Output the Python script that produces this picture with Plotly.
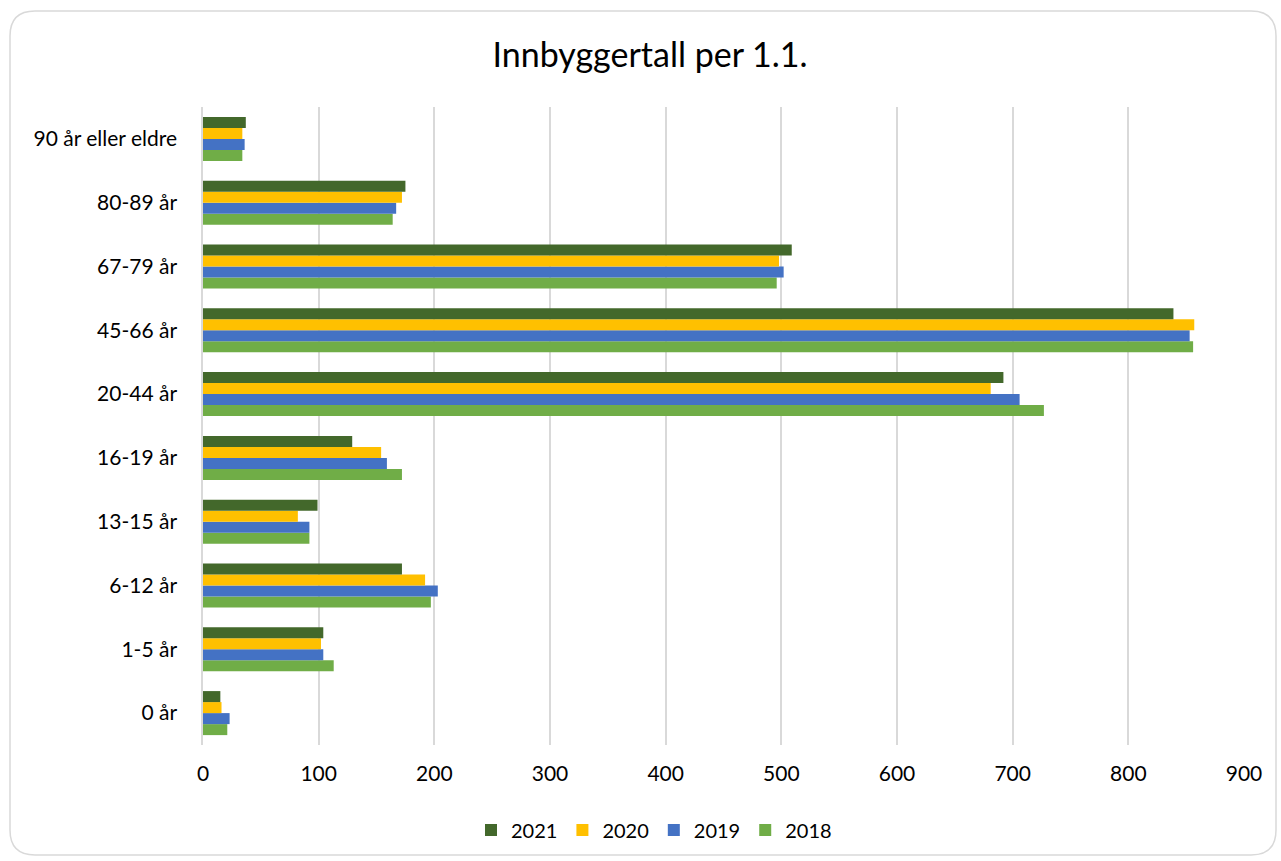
import plotly.graph_objects as go

categories = ["0 år", "1-5 år", "6-12 år", "13-15 år", "16-19 år", "20-44 år",
              "45-66 år", "67-79 år", "80-89 år", "90 år eller eldre"]
v2021 = [15, 104, 172, 99, 129, 692, 839, 509, 175, 37]
v2020 = [16, 102, 192, 82, 154, 681, 857, 498, 172, 34]
v2019 = [23, 104, 203, 92, 159, 706, 853, 502, 167, 36]
v2018 = [21, 113, 197, 92, 172, 727, 856, 496, 164, 34]
tick_vals = [0, 100, 200, 300, 400, 500, 600, 700, 800, 900]

W, H = 1281, 861
L, R, T, B = 203, 37, 107, 116

fig = go.Figure()
for name, vals, col in [("2018", v2018, "#70AD47"), ("2019", v2019, "#4472C4"),
                        ("2020", v2020, "#FFC000"), ("2021", v2021, "#43682B")]:
    fig.add_trace(go.Bar(y=categories, x=vals, name=name, orientation="h",
                         marker=dict(color=col, line=dict(width=0))))

pw, ph = W - L - R, H - T - B
def px(x):
    return (x - L) / pw
def py(y):
    return (H - B - y) / ph

x0, x1, y0, y1, r = 10, 1276, 11, 855, 25
path = (f"M {px(x0+r)},{py(y0)} L {px(x1-r)},{py(y0)} "
        f"Q {px(x1)},{py(y0)} {px(x1)},{py(y0+r)} L {px(x1)},{py(y1-r)} "
        f"Q {px(x1)},{py(y1)} {px(x1-r)},{py(y1)} L {px(x0+r)},{py(y1)} "
        f"Q {px(x0)},{py(y1)} {px(x0)},{py(y1-r)} L {px(x0)},{py(y0+r)} "
        f"Q {px(x0)},{py(y0)} {px(x0+r)},{py(y0)} Z")

fig.update_layout(
    width=W, height=H,
    margin=dict(l=L, r=R, t=T, b=B),
    paper_bgcolor="white", plot_bgcolor="white",
    barmode="group", bargap=0.31, bargroupgap=0,
    font=dict(family="Lato, Carlito, Calibri, sans-serif", color="#000000", size=21),
    title=dict(text="Innbyggertall per 1.1.", x=650 / W, xanchor="center", y=0.936,
               yanchor="middle", font=dict(size=34, color="#000000")),
    xaxis=dict(range=[0, 900], tickvals=tick_vals, showgrid=True,
               gridcolor="#D9D9D9", gridwidth=1.5, zeroline=False,
               showline=False, ticks="", ticklabelstandoff=14,
               tickfont=dict(size=21, color="#000000")),
    yaxis=dict(type="category", categoryorder="array", categoryarray=categories,
               showgrid=False, ticks="", ticklabelstandoff=20,
               showline=True, linecolor="#D9D9D9", linewidth=1.5,
               tickfont=dict(size=21, color="#000000")),
    legend=dict(orientation="h", x=px(654), xanchor="center", y=py(830), yanchor="middle",
                traceorder="reversed", itemwidth=30, font=dict(size=20, color="#000000")),
    shapes=[dict(type="path", path=path, xref="paper", yref="paper",
                 line=dict(color="#D9D9D9", width=1.5), layer="below")],
)

fig.write_html("out.html", config={"displayModeBar": False},
               post_script="document.body.style.margin='0';")
